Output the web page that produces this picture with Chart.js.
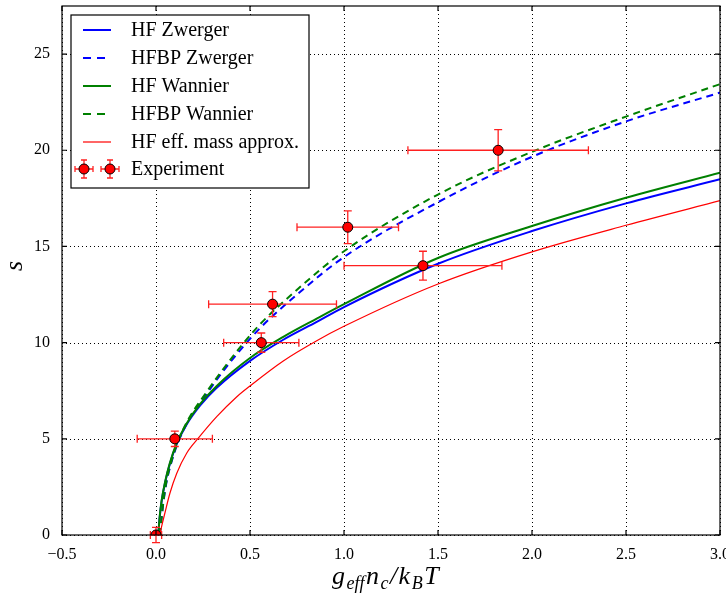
<!DOCTYPE html>
<html>
<head>
<meta charset="utf-8">
<script src="https://cdn.jsdelivr.net/npm/chart.js@4"></script>
<style>
  html, body { margin: 0; padding: 0; background: #fff; }
</style>
</head>
<body>
<canvas id="sChart" width="726" height="598"></canvas>
<script>
// x = g_eff n_c / k_B T, y = s
const hfX = [0.012, 0.02, 0.03, 0.048, 0.074, 0.11, 0.163, 0.234, 0.323, 0.5, 0.677, 0.855, 1.0, 1.5, 2.0, 2.5, 3.0];
const hfZwergerY = [0, 0.95, 1.75, 2.7, 3.7, 4.72, 5.74, 6.72, 7.65, 9.05, 10.15, 11.08, 11.85, 14.1, 15.8, 17.24, 18.49];
const hfWannierY = [0, 1.0, 1.8, 2.75, 3.75, 4.77, 5.8, 6.8, 7.75, 9.2, 10.3, 11.25, 12.0, 14.4, 16.06, 17.53, 18.83];

const hfbpX = [0.02, 0.03, 0.04, 0.057, 0.084, 0.12, 0.18, 0.252, 0.34, 0.447, 0.553, 0.75, 1.0, 1.5, 2.0, 2.5, 3.0];
const hfbpZwergerY = [0, 0.9, 1.75, 2.8, 3.85, 4.88, 6.08, 7.1, 8.3, 9.6, 10.75, 12.5, 14.45, 17.3, 19.66, 21.5, 23.0];
const hfbpWannierY = [0, 0.9, 1.8, 2.86, 3.9, 4.94, 6.15, 7.19, 8.4, 9.75, 10.95, 12.75, 14.75, 17.7, 19.92, 21.75, 23.44];

const effMassX = [0.02, 0.03, 0.047, 0.074, 0.11, 0.163, 0.225, 0.323, 0.43, 0.5, 0.677, 0.855, 1.0, 1.5, 2.0, 2.5, 3.0];
const effMassY = [0, 0.45, 1.13, 2.17, 3.2, 4.25, 5.03, 6.15, 7.19, 7.75, 9.05, 10.1, 10.85, 13.05, 14.72, 16.1, 17.38];

const expX = [0.0, 0.1, 0.56, 0.62, 1.02, 1.42, 1.82];
const expY = [0, 5, 10, 12, 16, 14, 20];
const expXErr = [0.03, 0.2, 0.2, 0.34, 0.27, 0.42, 0.48];
const expYErr = [0.4, 0.4, 0.5, 0.65, 0.85, 0.75, 1.07];

const xTicks = [-0.5, 0.0, 0.5, 1.0, 1.5, 2.0, 2.5, 3.0];
const yTicks = [0, 5, 10, 15, 20, 25];

const SERIF = '"Liberation Serif", "DejaVu Serif", serif';

function pts(xs, ys) {
  return xs.map((x, i) => ({ x: x, y: ys[i] }));
}

function curve(label, xs, ys, color, dashed, width, order) {
  return {
    label: label,
    data: pts(xs, ys),
    showLine: true,
    borderColor: color,
    backgroundColor: color,
    borderWidth: width,
    borderDash: dashed ? [7, 5] : [],
    pointRadius: 0,
    cubicInterpolationMode: 'monotone',
    order: order
  };
}

const datasets = [
  curve('HF Zwerger', hfX, hfZwergerY, '#0000ff', false, 2, 6),
  curve('HFBP Zwerger', hfbpX, hfbpZwergerY, '#0000ff', true, 2, 5),
  curve('HF Wannier', hfX, hfWannierY, '#008000', false, 2, 4),
  curve('HFBP Wannier', hfbpX, hfbpWannierY, '#008000', true, 2, 3),
  curve('HF eff. mass approx.', effMassX, effMassY, '#ff0000', false, 1.2, 2),
  {
    label: 'Experiment',
    data: pts(expX, expY),
    showLine: false,
    pointRadius: 5,
    pointHoverRadius: 5,
    pointBackgroundColor: '#ff0000',
    pointBorderColor: '#000000',
    pointBorderWidth: 1,
    order: 1
  }
];

function errorBar(ctx, px, py, x0, x1, y0, y1, cap) {
  ctx.beginPath();
  ctx.moveTo(x0, py); ctx.lineTo(x1, py);
  ctx.moveTo(px, y0); ctx.lineTo(px, y1);
  ctx.moveTo(x0, py - cap); ctx.lineTo(x0, py + cap);
  ctx.moveTo(x1, py - cap); ctx.lineTo(x1, py + cap);
  ctx.moveTo(px - cap, y0); ctx.lineTo(px + cap, y0);
  ctx.moveTo(px - cap, y1); ctx.lineTo(px + cap, y1);
  ctx.stroke();
}

// dotted grid, frame and inward tick marks
const framePlugin = {
  id: 'frame',
  beforeDatasetsDraw(chart) {
    const { ctx, chartArea: a, scales } = chart;
    ctx.save();
    ctx.strokeStyle = '#000';
    ctx.lineWidth = 1;
    ctx.setLineDash([1, 3]);
    ctx.beginPath();
    xTicks.forEach(v => {
      const x = Math.round(scales.x.getPixelForValue(v)) + 0.5;
      ctx.moveTo(x, a.top); ctx.lineTo(x, a.bottom);
    });
    yTicks.forEach(v => {
      const y = Math.round(scales.y.getPixelForValue(v)) + 0.5;
      ctx.moveTo(a.left, y); ctx.lineTo(a.right, y);
    });
    ctx.stroke();
    ctx.restore();
  },
  afterDatasetsDraw(chart) {
    const { ctx, chartArea: a, scales } = chart;
    ctx.save();
    ctx.strokeStyle = '#000';
    ctx.lineWidth = 1.2;
    ctx.setLineDash([]);
    ctx.strokeRect(a.left, a.top, a.right - a.left, a.bottom - a.top);
    ctx.beginPath();
    xTicks.forEach(v => {
      const x = scales.x.getPixelForValue(v);
      ctx.moveTo(x, a.bottom); ctx.lineTo(x, a.bottom - 5);
      ctx.moveTo(x, a.top); ctx.lineTo(x, a.top + 5);
    });
    yTicks.forEach(v => {
      const y = scales.y.getPixelForValue(v);
      ctx.moveTo(a.left, y); ctx.lineTo(a.left + 5, y);
      ctx.moveTo(a.right, y); ctx.lineTo(a.right - 5, y);
    });
    ctx.stroke();
    ctx.restore();
  }
};

// error bars under the experiment markers
const errorBarPlugin = {
  id: 'errorBars',
  beforeDatasetDraw(chart, args) {
    if (chart.data.datasets[args.index].label !== 'Experiment') return;
    const { ctx, scales } = chart;
    ctx.save();
    ctx.strokeStyle = '#ff2020';
    ctx.lineWidth = 1.3;
    expX.forEach((x, i) => {
      const px = scales.x.getPixelForValue(x);
      const py = scales.y.getPixelForValue(expY[i]);
      errorBar(ctx, px, py,
        scales.x.getPixelForValue(x - expXErr[i]),
        scales.x.getPixelForValue(x + expXErr[i]),
        scales.y.getPixelForValue(expY[i] + expYErr[i]),
        scales.y.getPixelForValue(expY[i] - expYErr[i]), 4);
    });
    ctx.restore();
  }
};

const legendPlugin = {
  id: 'boxLegend',
  afterDraw(chart) {
    const ctx = chart.ctx;
    const rows = [30, 58, 86, 114, 142, 169];
    ctx.save();
    ctx.fillStyle = '#fff';
    ctx.fillRect(71, 15, 238, 173);
    ctx.strokeStyle = '#000';
    ctx.lineWidth = 1.2;
    ctx.strokeRect(71, 15, 238, 173);
    ctx.font = '20px ' + SERIF;
    ctx.textBaseline = 'middle';
    chart.data.datasets.forEach((ds, i) => {
      const y = rows[i];
      if (ds.label === 'Experiment') {
        [84, 110].forEach(px => {
          ctx.strokeStyle = '#ff2020';
          ctx.lineWidth = 1.3;
          errorBar(ctx, px, y, px - 9, px + 9, y - 9, y + 9, 3);
          ctx.beginPath();
          ctx.arc(px, y, 5, 0, Math.PI * 2);
          ctx.fillStyle = '#ff0000';
          ctx.fill();
          ctx.strokeStyle = '#000';
          ctx.lineWidth = 1;
          ctx.stroke();
        });
      } else {
        ctx.strokeStyle = ds.borderColor;
        ctx.lineWidth = ds.borderWidth;
        ctx.setLineDash(ds.borderDash.length ? [8, 6] : []);
        ctx.beginPath();
        ctx.moveTo(83, y); ctx.lineTo(111, y);
        ctx.stroke();
        ctx.setLineDash([]);
      }
      ctx.fillStyle = '#000';
      ctx.fillText(ds.label, 131, y + 1);
    });
    ctx.restore();
  }
};

// axis titles with subscripts
const titlePlugin = {
  id: 'axisTitles',
  afterDraw(chart) {
    const ctx = chart.ctx;
    const big = 'italic 26px ' + SERIF;
    const small = 'italic 18px ' + SERIF;
    const parts = [
      ['g', big, 0], ['eff', small, 5], ['n', big, 0], ['c', small, 5],
      ['/', big, 0], ['k', big, 0], ['B', small, 5], ['T', big, 0]
    ];
    const gap = 1.5;
    ctx.save();
    ctx.fillStyle = '#000';
    ctx.textBaseline = 'alphabetic';
    let total = 0;
    parts.forEach(p => { ctx.font = p[1]; total += ctx.measureText(p[0]).width + gap; });
    let x = 386 - total / 2;
    const base = 584;
    parts.forEach(p => {
      ctx.font = p[1];
      ctx.fillText(p[0], x, base + p[2]);
      x += ctx.measureText(p[0]).width + gap;
    });
    ctx.translate(22, 266);
    ctx.rotate(-Math.PI / 2);
    ctx.font = 'italic 26px ' + SERIF;
    ctx.textAlign = 'center';
    ctx.fillText('s', 0, 0);
    ctx.restore();
  }
};

new Chart(document.getElementById('sChart').getContext('2d'), {
  type: 'scatter',
  data: { datasets: datasets },
  options: {
    responsive: false,
    animation: false,
    layout: { padding: { top: 5, right: 6, left: 0, bottom: 0 } },
    plugins: {
      legend: { display: false },
      tooltip: { enabled: false }
    },
    scales: {
      x: {
        type: 'linear',
        min: -0.5,
        max: 3.0,
        afterBuildTicks: s => { s.ticks = xTicks.map(v => ({ value: v })); },
        afterFit: s => { s.height = 63; s.paddingLeft = 0; s.paddingRight = 0; },
        grid: { display: false, drawTicks: false },
        border: { display: false },
        ticks: {
          autoSkip: false,
          maxRotation: 0,
          padding: 10,
          color: '#000',
          font: { family: SERIF, size: 16 },
          callback: v => (v < 0 ? '\u2212' : '') + Math.abs(v).toFixed(1)
        }
      },
      y: {
        type: 'linear',
        min: 0,
        max: 27.5,
        afterBuildTicks: s => { s.ticks = yTicks.map(v => ({ value: v })); },
        afterFit: s => { s.width = 62; s.paddingTop = 0; s.paddingBottom = 0; },
        grid: { display: false, drawTicks: false },
        border: { display: false },
        ticks: {
          padding: 12,
          color: '#000',
          font: { family: SERIF, size: 16 },
          callback: v => String(v)
        }
      }
    }
  },
  plugins: [framePlugin, errorBarPlugin, legendPlugin, titlePlugin]
});
</script>
</body>
</html>
